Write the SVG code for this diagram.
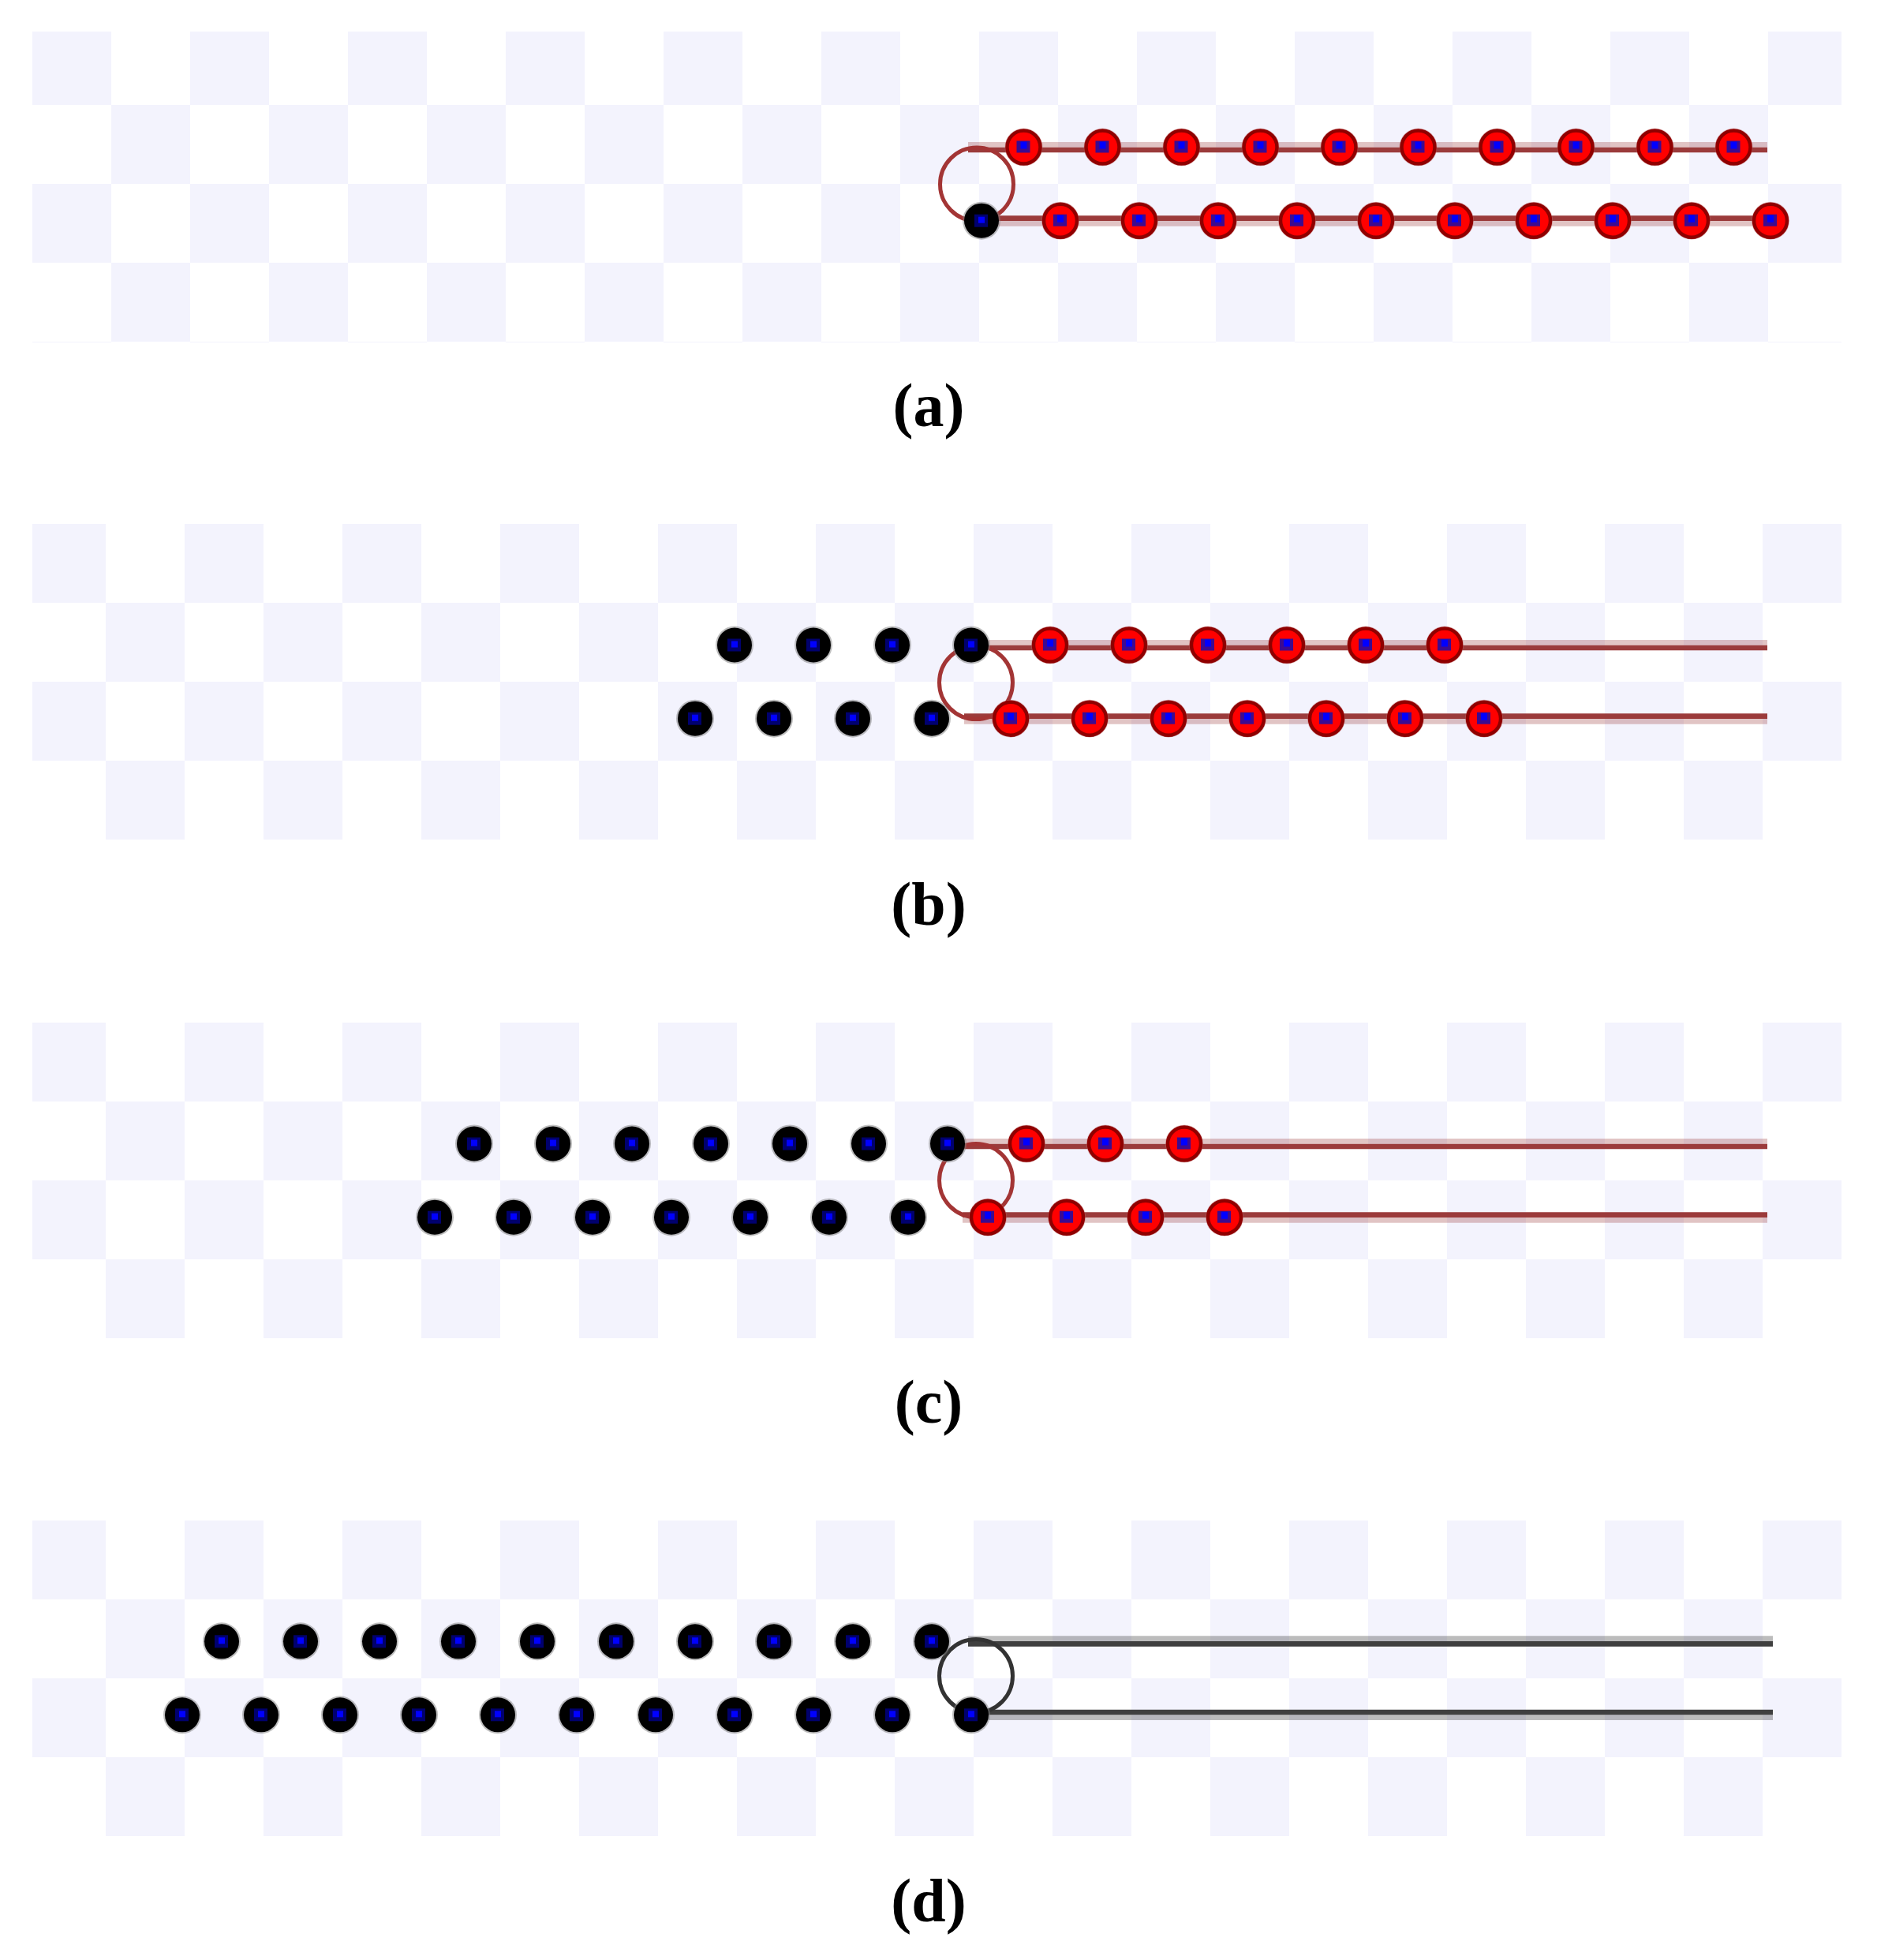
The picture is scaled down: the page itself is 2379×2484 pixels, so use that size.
<svg xmlns="http://www.w3.org/2000/svg" xmlns:xlink="http://www.w3.org/1999/xlink" width="2379" height="2484" viewBox="0 0 2379 2484">
<style>
.lbl{font-family:"Liberation Serif","Times New Roman",serif;font-weight:bold;font-size:78px;fill:#000;text-anchor:middle}
.rd{stroke:#9b3b3b;stroke-width:6.7;fill:none}
.rl{stroke:#9b3b3b;stroke-opacity:.3;stroke-width:6.7;fill:none}
.gd{stroke:#3f3f3f;stroke-width:6.7;fill:none}
.gl{stroke:#3f3f3f;stroke-opacity:.35;stroke-width:6.7;fill:none}
.rloop{stroke:#a33535;stroke-width:5;fill:none}
.gloop{stroke:#333;stroke-width:5;fill:none}
</style>
<defs>
<pattern id="chkA" patternUnits="userSpaceOnUse" x="41" y="0" width="200" height="200">
<rect x="0" y="0" width="100" height="100" fill="#f3f3fd"/><rect x="100" y="100" width="100" height="100" fill="#f3f3fd"/>
</pattern>
<pattern id="chkB" patternUnits="userSpaceOnUse" x="34" y="0" width="200" height="200">
<rect x="0" y="0" width="100" height="100" fill="#f3f3fd"/><rect x="100" y="100" width="100" height="100" fill="#f3f3fd"/>
</pattern>
<g id="rb">
<circle r="24" fill="#c06868" opacity=".45"/>
<circle r="21" fill="#ff0000" stroke="#8f0000" stroke-width="4.5"/>
<rect x="-9" y="-8" width="17" height="15" fill="#3d0a8f"/>
<rect x="-4" y="-7" width="8" height="9" fill="#0000ff"/>
</g>
<g id="bb">
<circle r="24" fill="#808080" opacity=".5"/>
<circle r="22" fill="#000"/>
<rect x="-9" y="-8" width="17" height="16" fill="#00006e"/>
<rect x="-4" y="-5" width="8" height="8" fill="#0000ff"/>
</g>
</defs>
<rect width="2379" height="2484" fill="#fff"/>

<!-- Panel a -->
<g id="panel-a" transform="translate(0,33)">
<rect x="41" y="7" width="2293" height="394" fill="url(#chkA)"/>
<g id="connectors-a">
<line class="rl" x1="1227" y1="150.3" x2="2240" y2="150.3"/>
<line class="rd" x1="1227" y1="157" x2="2240" y2="157"/>
<line class="rd" x1="1244" y1="243.7" x2="2244" y2="243.7"/>
<line class="rl" x1="1244" y1="250.3" x2="2244" y2="250.3"/>
<circle class="rloop" cx="1238" cy="200.5" r="46.5"/>
</g>
<g id="beads-a">
<use id="a-t0" xlink:href="#rb" x="1297.5" y="153.5"/><use id="a-t1" xlink:href="#rb" x="1397.5" y="153.5"/><use id="a-t2" xlink:href="#rb" x="1497.5" y="153.5"/><use id="a-t3" xlink:href="#rb" x="1597.5" y="153.5"/><use id="a-t4" xlink:href="#rb" x="1697.5" y="153.5"/><use id="a-t5" xlink:href="#rb" x="1797.5" y="153.5"/><use id="a-t6" xlink:href="#rb" x="1897.5" y="153.5"/><use id="a-t7" xlink:href="#rb" x="1997.5" y="153.5"/><use id="a-t8" xlink:href="#rb" x="2097.5" y="153.5"/><use id="a-t9" xlink:href="#rb" x="2197.5" y="153.5"/>
<use id="a-b0" xlink:href="#bb" x="1244" y="246.7"/>
<use id="a-b1" xlink:href="#rb" x="1344" y="246.7"/><use id="a-b2" xlink:href="#rb" x="1444" y="246.7"/><use id="a-b3" xlink:href="#rb" x="1544" y="246.7"/><use id="a-b4" xlink:href="#rb" x="1644" y="246.7"/><use id="a-b5" xlink:href="#rb" x="1744" y="246.7"/><use id="a-b6" xlink:href="#rb" x="1844" y="246.7"/><use id="a-b7" xlink:href="#rb" x="1944" y="246.7"/><use id="a-b8" xlink:href="#rb" x="2044" y="246.7"/><use id="a-b9" xlink:href="#rb" x="2144" y="246.7"/><use id="a-b10" xlink:href="#rb" x="2244" y="246.7"/>
</g>
</g>
<text id="label-a" class="lbl" x="1177" y="540">(a)</text>

<!-- Panel b -->
<g id="panel-b" transform="translate(0,664)">
<rect x="41" y="0" width="2293" height="400" fill="url(#chkB)"/>
<g id="connectors-b">
<line class="rl" x1="1231" y1="150.3" x2="2240" y2="150.3"/>
<line class="rd" x1="1231" y1="157" x2="2240" y2="157"/>
<line class="rd" x1="1222" y1="243.7" x2="2240" y2="243.7"/>
<line class="rl" x1="1222" y1="250.3" x2="2240" y2="250.3"/>
<circle class="rloop" cx="1237" cy="201" r="46.5"/>
</g>
<g id="beads-b">
<use id="b-t0" xlink:href="#bb" x="931" y="153.5"/><use id="b-t1" xlink:href="#bb" x="1031" y="153.5"/><use id="b-t2" xlink:href="#bb" x="1131" y="153.5"/><use id="b-t3" xlink:href="#bb" x="1231" y="153.5"/>
<use id="b-t4" xlink:href="#rb" x="1331" y="153.5"/><use id="b-t5" xlink:href="#rb" x="1431" y="153.5"/><use id="b-t6" xlink:href="#rb" x="1531" y="153.5"/><use id="b-t7" xlink:href="#rb" x="1631" y="153.5"/><use id="b-t8" xlink:href="#rb" x="1731" y="153.5"/><use id="b-t9" xlink:href="#rb" x="1831" y="153.5"/>
<use id="b-b0" xlink:href="#bb" x="881" y="246.7"/><use id="b-b1" xlink:href="#bb" x="981" y="246.7"/><use id="b-b2" xlink:href="#bb" x="1081" y="246.7"/><use id="b-b3" xlink:href="#bb" x="1181" y="246.7"/>
<use id="b-b4" xlink:href="#rb" x="1281" y="246.7"/><use id="b-b5" xlink:href="#rb" x="1381" y="246.7"/><use id="b-b6" xlink:href="#rb" x="1481" y="246.7"/><use id="b-b7" xlink:href="#rb" x="1581" y="246.7"/><use id="b-b8" xlink:href="#rb" x="1681" y="246.7"/><use id="b-b9" xlink:href="#rb" x="1781" y="246.7"/><use id="b-b10" xlink:href="#rb" x="1881" y="246.7"/>
</g>
</g>
<text id="label-b" class="lbl" x="1177" y="1172">(b)</text>

<!-- Panel c -->
<g id="panel-c" transform="translate(0,1296)">
<rect x="41" y="0" width="2293" height="400" fill="url(#chkB)"/>
<g id="connectors-c">
<line class="rl" x1="1201" y1="150.3" x2="2240" y2="150.3"/>
<line class="rd" x1="1201" y1="157" x2="2240" y2="157"/>
<line class="rd" x1="1220" y1="243.7" x2="2240" y2="243.7"/>
<line class="rl" x1="1220" y1="250.3" x2="2240" y2="250.3"/>
<circle class="rloop" cx="1237" cy="200" r="46.5"/>
</g>
<g id="beads-c">
<use id="c-t0" xlink:href="#bb" x="601" y="153.5"/><use id="c-t1" xlink:href="#bb" x="701" y="153.5"/><use id="c-t2" xlink:href="#bb" x="801" y="153.5"/><use id="c-t3" xlink:href="#bb" x="901" y="153.5"/><use id="c-t4" xlink:href="#bb" x="1001" y="153.5"/><use id="c-t5" xlink:href="#bb" x="1101" y="153.5"/><use id="c-t6" xlink:href="#bb" x="1201" y="153.5"/>
<use id="c-t7" xlink:href="#rb" x="1301" y="153.5"/><use id="c-t8" xlink:href="#rb" x="1401" y="153.5"/><use id="c-t9" xlink:href="#rb" x="1501" y="153.5"/>
<use id="c-b0" xlink:href="#bb" x="551" y="246.7"/><use id="c-b1" xlink:href="#bb" x="651" y="246.7"/><use id="c-b2" xlink:href="#bb" x="751" y="246.7"/><use id="c-b3" xlink:href="#bb" x="851" y="246.7"/><use id="c-b4" xlink:href="#bb" x="951" y="246.7"/><use id="c-b5" xlink:href="#bb" x="1051" y="246.7"/><use id="c-b6" xlink:href="#bb" x="1151" y="246.7"/>
<use id="c-b7" xlink:href="#rb" x="1252" y="246.7"/><use id="c-b8" xlink:href="#rb" x="1352" y="246.7"/><use id="c-b9" xlink:href="#rb" x="1452" y="246.7"/><use id="c-b10" xlink:href="#rb" x="1552" y="246.7"/>
</g>
</g>
<text id="label-c" class="lbl" x="1177" y="1803">(c)</text>

<!-- Panel d -->
<g id="panel-d" transform="translate(0,1927)">
<rect x="41" y="0" width="2293" height="400" fill="url(#chkB)"/>
<g id="connectors-d">
<line class="gl" x1="1227" y1="149.7" x2="2247" y2="149.7"/>
<line class="gd" x1="1227" y1="156.3" x2="2247" y2="156.3"/>
<line class="gd" x1="1231" y1="243" x2="2247" y2="243"/>
<line class="gl" x1="1231" y1="249.7" x2="2247" y2="249.7"/>
<circle class="gloop" cx="1237" cy="197" r="46.5"/>
</g>
<g id="beads-d">
<use id="d-t0" xlink:href="#bb" x="281" y="153.3"/><use id="d-t1" xlink:href="#bb" x="381" y="153.3"/><use id="d-t2" xlink:href="#bb" x="481" y="153.3"/><use id="d-t3" xlink:href="#bb" x="581" y="153.3"/><use id="d-t4" xlink:href="#bb" x="681" y="153.3"/><use id="d-t5" xlink:href="#bb" x="781" y="153.3"/><use id="d-t6" xlink:href="#bb" x="881" y="153.3"/><use id="d-t7" xlink:href="#bb" x="981" y="153.3"/><use id="d-t8" xlink:href="#bb" x="1081" y="153.3"/><use id="d-t9" xlink:href="#bb" x="1181" y="153.3"/>
<use id="d-b0" xlink:href="#bb" x="231" y="246.3"/><use id="d-b1" xlink:href="#bb" x="331" y="246.3"/><use id="d-b2" xlink:href="#bb" x="431" y="246.3"/><use id="d-b3" xlink:href="#bb" x="531" y="246.3"/><use id="d-b4" xlink:href="#bb" x="631" y="246.3"/><use id="d-b5" xlink:href="#bb" x="731" y="246.3"/><use id="d-b6" xlink:href="#bb" x="831" y="246.3"/><use id="d-b7" xlink:href="#bb" x="931" y="246.3"/><use id="d-b8" xlink:href="#bb" x="1031" y="246.3"/><use id="d-b9" xlink:href="#bb" x="1131" y="246.3"/><use id="d-b10" xlink:href="#bb" x="1231" y="246.3"/>
</g>
</g>
<text id="label-d" class="lbl" x="1177" y="2435">(d)</text>
</svg>
